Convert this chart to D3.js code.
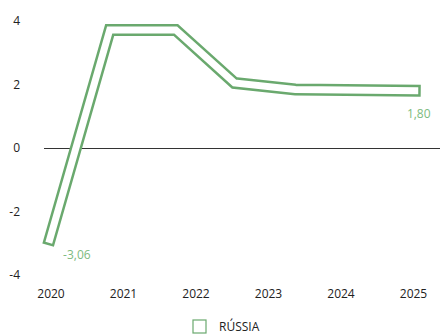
<!DOCTYPE html>
<html>
<head>
<script src="https://d3js.org/d3.v7.min.js"></script>
<style>
    body { margin: 0; background: #fff; }
    text { font-family: "Open Sans", sans-serif; }
</style>
</head>
<body>
<svg id="chart" width="440" height="335"></svg>
<script>

// data
const years = [2020, 2021, 2022, 2023, 2024, 2025];
const yTicks = [4, 2, 0, -2, -4];
const pointTimes = [2019.96, 2020.81, 2021.72, 2022.53, 2023.37, 2025.10];
const russiaValues = [-3.06, 3.72, 3.72, 2.05, 1.84, 1.80];
const seriesName = "RÚSSIA";

const green = "#6aa96e";
const labelGreen = "#7dbb80";

const svg = d3.select("#chart");

const x = d3.scaleLinear().domain([2020, 2025]).range([51, 413.5]);
const y = d3.scaleLinear().domain([-4, 4]).range([275, 21]);

const points = pointTimes.map((t, i) => ({ t: t, v: russiaValues[i] }));

// y tick labels
svg.append("g").selectAll("text").data(yTicks)
    .join("text")
    .attr("x", 20)
    .attr("y", d => y(d))
    .attr("dy", "0.35em")
    .attr("text-anchor", "end")
    .attr("font-size", 12)
    .attr("fill", "#222")
    .text(d => d);

// x tick labels
svg.append("g").selectAll("text").data(years)
    .join("text")
    .attr("x", d => x(d))
    .attr("y", 298)
    .attr("text-anchor", "middle")
    .attr("font-size", 12)
    .attr("fill", "#222")
    .text(d => d);

// zero line
const y0 = Math.round(y(0)) + 0.5;
svg.append("line")
    .attr("x1", 44).attr("x2", 440)
    .attr("y1", y0).attr("y2", y0)
    .attr("stroke", "#333")
    .attr("stroke-width", 1);

// outlined line: thick green, then white inside with closed ends
const line = d3.line().x(d => x(d.t)).y(d => y(d.v));

svg.append("path").datum(points)
    .attr("d", line)
    .attr("fill", "none")
    .attr("stroke", green)
    .attr("stroke-width", 12)
    .attr("stroke-linejoin", "miter")
    .attr("stroke-linecap", "butt");

const inner = svg.append("path").datum(points)
    .attr("d", line)
    .attr("fill", "none")
    .attr("stroke", "#fff")
    .attr("stroke-width", 7)
    .attr("stroke-linejoin", "miter")
    .attr("stroke-linecap", "butt");

const len = inner.node().getTotalLength();
const capGap = 2.5;
inner.attr("stroke-dasharray", `0 ${capGap} ${len - 2 * capGap} ${len}`);

// value labels at ends
const fmt = v => v.toFixed(2).replace(".", ",");
const first = points[0], last = points[points.length - 1];

svg.append("text")
    .attr("x", x(first.t) + 15)
    .attr("y", y(first.v) + 10)
    .attr("dy", "0.35em")
    .attr("font-size", 12)
    .attr("fill", labelGreen)
    .text(fmt(first.v));

svg.append("text")
    .attr("x", x(last.t) - 2)
    .attr("y", y(last.v) + 23)
    .attr("dy", "0.35em")
    .attr("text-anchor", "middle")
    .attr("font-size", 12)
    .attr("fill", labelGreen)
    .text(fmt(last.v));

// legend
const legend = svg.append("g").attr("transform", "translate(193,320)");
legend.append("rect")
    .attr("width", 13).attr("height", 13)
    .attr("fill", "#fff")
    .attr("stroke", green)
    .attr("stroke-width", 1.2);
legend.append("text")
    .attr("x", 26).attr("y", 7)
    .attr("dy", "0.35em")
    .attr("font-size", 12)
    .attr("fill", "#222")
    .text(seriesName);

</script>
</body>
</html>
